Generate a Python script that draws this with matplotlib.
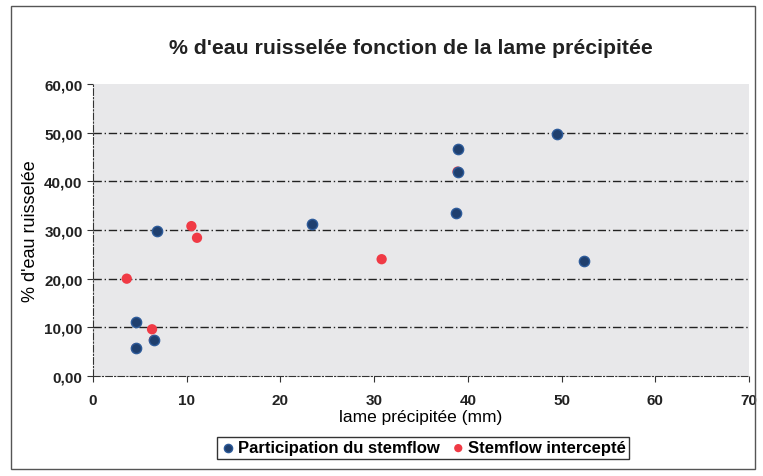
import matplotlib
matplotlib.use('Agg')
import matplotlib.pyplot as plt
from matplotlib.patches import Rectangle

# données
lame_stemflow = [6.8, 4.6, 4.6, 6.5, 23.4, 38.9, 38.9, 38.7, 49.5, 52.4]
pct_stemflow = [29.8, 11.1, 5.7, 7.5, 31.2, 46.7, 42.0, 33.5, 49.8, 23.6]

lame_intercepte = [3.6, 6.3, 10.5, 11.1, 30.8, 4.6, 6.5, 38.9]
pct_intercepte = [20.0, 9.6, 30.8, 28.4, 24.0, 5.7, 7.4, 42.0]

x_ticks = [0, 10, 20, 30, 40, 50, 60, 70]
y_ticks = [0, 10, 20, 30, 40, 50, 60]

plt.rcParams['font.family'] = ['Liberation Sans', 'DejaVu Sans']

W, H = 763, 477
fig = plt.figure(figsize=(W / 100, H / 100), dpi=100)

# cadre extérieur
fig.patches.append(Rectangle((11 / W, 1 - 470 / H), 744 / W, 463 / H,
                             transform=fig.transFigure, fill=False,
                             edgecolor='#555555', linewidth=1.0))

ax = fig.add_axes([93 / W, 1 - 377 / H, (749 - 93) / W, (377 - 85) / H])
ax.set_facecolor('#e8e8ea')

ax.scatter(lame_intercepte, pct_intercepte, s=55, color='#f03a45',
           edgecolors='none', zorder=3, label='Stemflow intercepté')
ax.scatter(lame_stemflow, pct_stemflow, s=55, color='#1f3f6e',
           edgecolors='#2d5b9a', linewidths=1.0, zorder=4,
           label='Participation du stemflow')

ax.set_xlim(0, 70)
ax.set_ylim(0, 60)
ax.set_xticks(x_ticks)
ax.set_yticks(y_ticks)
ax.set_yticklabels([f'{v:.2f}'.replace('.', ',') for v in y_ticks])

for v in y_ticks[1:-1]:
    ax.axhline(v, color='#222222', linestyle=(0, (6, 2, 1, 2)), linewidth=1.0, zorder=1)

for side in ['top', 'right']:
    ax.spines[side].set_visible(False)
ax.spines['left'].set_linestyle((0, (6, 2, 1, 2)))
ax.spines['bottom'].set_linestyle((0, (6, 2, 1, 2)))
ax.spines['left'].set_color('#333333')
ax.spines['bottom'].set_color('#333333')

ax.tick_params(axis='both', labelsize=11, length=4, direction='out', color='#333333')
ax.tick_params(axis='x', pad=8)
for lab in ax.get_xticklabels() + ax.get_yticklabels():
    lab.set_fontweight('bold')
    lab.set_color('#222222')

ax.set_xlabel('lame précipitée (mm)', fontsize=12.5, labelpad=2)
ax.set_ylabel("% d'eau ruisselée", fontsize=13, labelpad=4)
fig.text(411 / W, 1 - 49 / H, "% d'eau ruisselée fonction de la lame précipitée",
         ha='center', va='center', fontsize=15.3, fontweight='bold', color='#222222')

handles, labels = ax.get_legend_handles_labels()
leg = fig.legend(handles[::-1], labels[::-1], loc='center', ncol=2,
                 bbox_to_anchor=(423 / W, 1 - 449 / H), frameon=True,
                 fancybox=False, edgecolor='#333333', framealpha=1,
                 prop={'weight': 'bold', 'size': 12}, handletextpad=0.1,
                 columnspacing=0.6, borderpad=0.2, handlelength=1.0,
                 markerscale=0.8)

fig.savefig('out.png', dpi=100)
